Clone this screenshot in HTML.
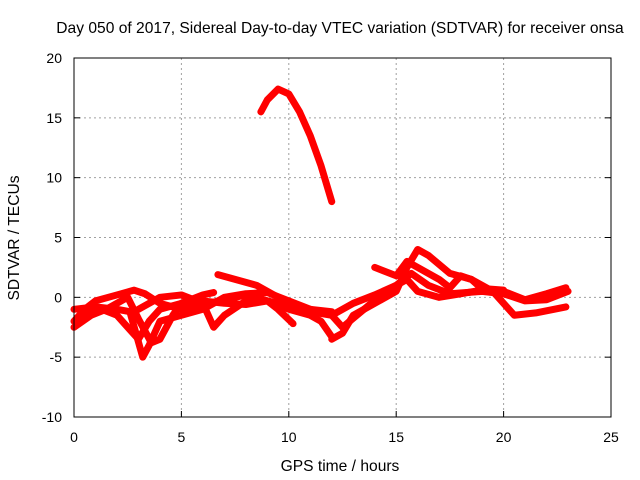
<!DOCTYPE html>
<html><head><meta charset="utf-8"><style>
body{margin:0;background:#fff}
svg{display:block;font-family:"Liberation Sans",sans-serif;font-size:14px}
</style></head><body>
<svg width="640" height="480">
<rect width="640" height="480" fill="#fff"/>
<g id="grid"></g>
<g id="series"></g>
<rect x="74" y="58" width="537" height="359" fill="none" stroke="#000" stroke-width="1"/>
<g id="ticks"></g>
<text x="340" y="33" text-anchor="middle" style="font-size:15.6px">Day 050 of 2017, Sidereal Day-to-day VTEC variation (SDTVAR) for receiver onsa</text>
<text x="340" y="471" text-anchor="middle" style="font-size:15.6px">GPS time / hours</text>
<text x="19" y="238" text-anchor="middle" style="font-size:15.6px" transform="rotate(-90 19 238)">SDTVAR / TECUs</text>
</svg>
<script>
const xTicks=[0,5,10,15,20,25];
const yTicks=[-10,-5,0,5,10,15,20];
const s1=[[8.7,15.5],[9,16.5],[9.5,17.4],[10,17],[10.5,15.5],[11,13.5],[11.5,11],[12,8]];
const s2=[[0,-2],[0.5,-1],[1,-0.3],[2,0.2],[2.8,0.6],[3.3,0.3],[4,-0.5],[5,-1],[6,-0.6],[7,-0.2],[8,0.2],[9,-0.3],[10,-0.7],[11,-1.2],[12,-1.5],[13,-0.5],[14,0.2],[15,1],[15.7,2],[16.5,1],[17.5,0.3],[19,0.5],[20,0.3],[21,-0.3],[22,-0.2],[23,0.5]];
const s3=[[12,-3.5],[12.5,-3],[13,-1.5],[14,-0.5],[15,0.5],[15.5,2.5],[16,4],[16.5,3.5],[17.5,2],[18.5,1.5],[19.5,0.5],[20.5,-1.5],[21.5,-1.3],[22.9,-0.8]];
const s4=[[14,2.5],[15,1.8],[15.5,3],[16,2.5],[17,1.5],[17.5,0.8],[18,1.8],[18.5,1.5],[19,0.7],[20,0.5],[21,-0.2],[22,0.3],[22.9,0.8]];
const s5=[[6.7,1.9],[7.5,1.5],[8.5,1],[9.5,0],[10,-0.8],[11,-1],[12,-1.5],[12.5,-2.5],[13.5,-1],[14.5,0.5],[15.5,1.5],[16,0.5],[17,0],[18,0.3],[19.3,0.7],[20,0.6]];
const s6=[[0,-1],[1,-0.8],[2,-1.5],[2.5,-2.5],[3,-3.5],[3.5,-2],[4,-1],[5,-0.5],[6,-0.3],[7,-0.5],[8,-0.6],[9,-0.3],[10,-1],[11,-1.5],[11.5,-2],[12,-3.3]];
const s7=[[0.3,-1.5],[1,-0.8],[2,-1],[2.6,-1.2],[3.2,-5],[3.5,-4],[4,-2],[5,-1.5],[6,-1],[7,0],[8,0.3],[9,0.4],[10,-0.3],[11,-1],[12,-1.2]];
const s8=[[0,-2.5],[0.8,-1.5],[1.5,-1],[2.5,0],[3,-1.8],[3.6,-3.8],[4,-3.5],[4.6,-1.5],[5,-0.5],[6,0.2],[6.5,0.4]];
const s9=[[3,-1],[4,0],[5,0.2],[6,-0.5],[6.5,-2.5],[7,-1.5],[8,-0.3],[8.5,0],[9,-0.3],[9.5,-1],[10.2,-2.2]];
const allSeries=[s1,s2,s3,s4,s5,s6,s7,s8,s9];
const NS="http://www.w3.org/2000/svg";
const X=h=>74+h*537/25, Y=v=>417-(v+10)*359/30;
const grid=document.getElementById('grid'),ticks=document.getElementById('ticks'),ser=document.getElementById('series');
function mk(tag,attrs,parent){const e=document.createElementNS(NS,tag);for(const k in attrs)e.setAttribute(k,attrs[k]);parent.appendChild(e);return e;}
xTicks.forEach(t=>{
  const x=X(t);
  if(t>0&&t<25){const g=mk('line',{x1:x,x2:x,y1:58,y2:417,stroke:'#a0a0a0','stroke-dasharray':'2,3'},grid);
  
  }
  const l=mk('line',{x1:x,x2:x,y1:417,y2:411,stroke:'#000'},ticks);
  
  
  const tx=mk('text',{x:x,y:442,'text-anchor':'middle'},ticks);tx.textContent=t;
  
  
});
yTicks.forEach(t=>{
  const y=Y(t);
  if(t>-10&&t<20){const g=mk('line',{x1:74,x2:611,y1:y,y2:y,stroke:'#a0a0a0','stroke-dasharray':'2,3'},grid);
  
  }
  const l=mk('line',{x1:74,x2:80,y1:y,y2:y,stroke:'#000'},ticks);
  
  
  const l2=mk('line',{x1:605,x2:611,y1:y,y2:y,stroke:'#000'},ticks);
  
  
  const tx=mk('text',{x:62,y:y+5,'text-anchor':'end'},ticks);tx.textContent=t;
  
  
});
allSeries.forEach((s,i)=>{
  const p=mk('polyline',{points:s.map(d=>X(d[0])+','+Y(d[1])).join(' '),fill:'none',stroke:'#ff0000','stroke-width':7,'stroke-linejoin':'round','stroke-linecap':'round'},ser);
  
  
});
</script>
</body></html>
